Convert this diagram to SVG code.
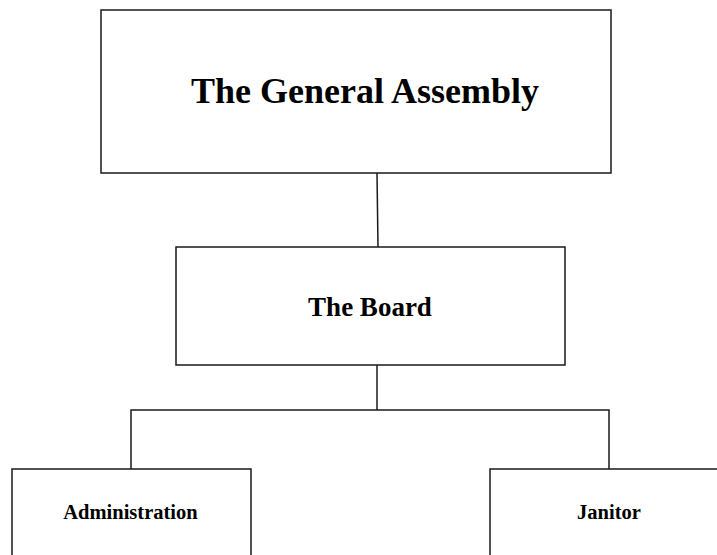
<svg xmlns="http://www.w3.org/2000/svg" width="717" height="555" viewBox="0 0 717 555">
  <style>
    .box { fill: #ffffff; stroke: #1a1a1a; stroke-width: 1.5; }
    .wire { fill: none; stroke: #1a1a1a; stroke-width: 1.5; }
    .label { font-family: "Liberation Serif", "Times New Roman", serif; font-weight: bold; fill: #000000; text-anchor: middle; }
  </style>
  <rect width="717" height="555" fill="#ffffff"/>
  <g id="connectors">
    <path class="wire" d="M377 173 L378 247"/>
    <path class="wire" d="M377 365 L377 410"/>
    <path class="wire" d="M131 469 L131 410 L609 410 L609 469"/>
  </g>
  <g id="general-assembly">
    <rect class="box" x="101" y="10" width="510" height="163"/>
    <text class="label" x="365" y="103" font-size="36">The General Assembly</text>
  </g>
  <g id="board">
    <rect class="box" x="176" y="247" width="389" height="118"/>
    <text class="label" x="370" y="316" font-size="27">The Board</text>
  </g>
  <g id="administration">
    <rect class="box" x="12" y="469" width="239" height="100"/>
    <text class="label" x="130.5" y="519" font-size="20.5">Administration</text>
  </g>
  <g id="janitor">
    <rect class="box" x="490" y="469" width="240" height="100"/>
    <text class="label" x="609" y="519" font-size="20.5">Janitor</text>
  </g>
</svg>
